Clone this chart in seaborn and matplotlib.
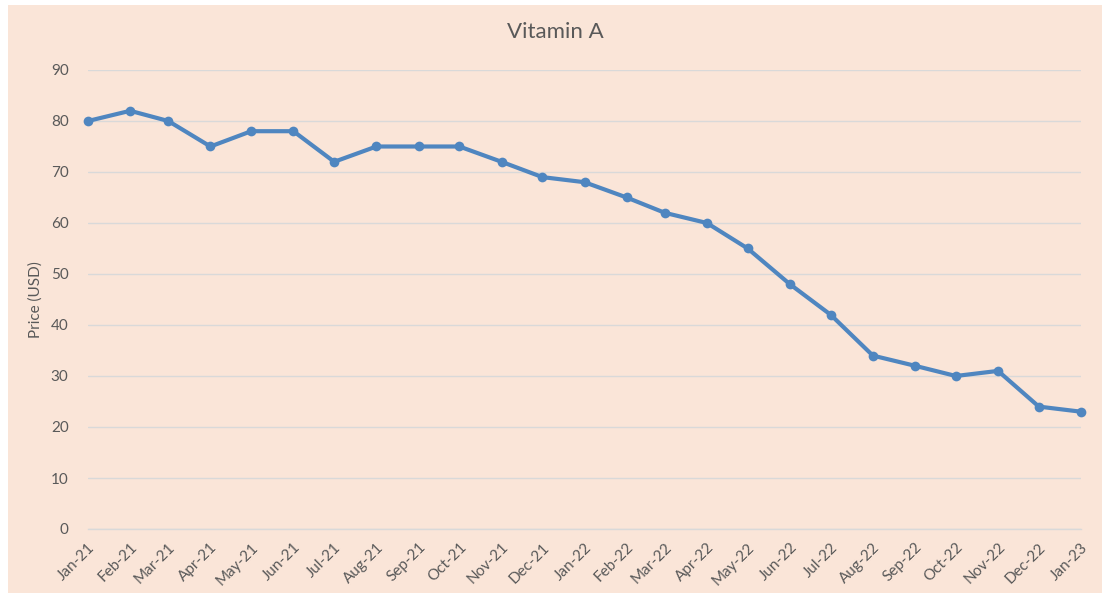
import matplotlib
matplotlib.use("Agg")
import matplotlib.pyplot as plt
import matplotlib.dates as mdates
import matplotlib.patches as mpatches
import seaborn as sns
import pandas as pd

# data
months = pd.date_range("2021-01-01", "2023-01-01", freq="MS")
prices = [80, 82, 80, 75, 78, 78, 72, 75, 75, 75, 72, 69, 68,
          65, 62, 60, 55, 48, 42, 34, 32, 30, 31, 24, 23]
df = pd.DataFrame({"month": months, "price": prices})

bg = "#FAE5D8"
grey = "#595959"

sns.set_style("white")
plt.rcParams["font.family"] = ["Lato", "DejaVu Sans"]

fig = plt.figure(figsize=(11.10, 5.98), dpi=100, facecolor="white")
fig.patches.append(mpatches.Rectangle((8 / 1110, 5 / 598), 1 - 16 / 1110, 1 - 10 / 598,
                                      transform=fig.transFigure, facecolor=bg,
                                      edgecolor="none", zorder=-1))
ax = fig.add_axes([88 / 1110, 1 - 529 / 598, (1081 - 88) / 1110, (529 - 70) / 598])
ax.set_facecolor(bg)

sns.lineplot(data=df, x="month", y="price", ax=ax, color="#4F86C0",
             linewidth=3, marker="o", markersize=7, markeredgewidth=0, zorder=3)
for ln in ax.lines:
    ln.set_clip_on(False)

ax.set_ylim(0, 90)
ax.set_yticks(range(0, 91, 10))
ax.set_xlim(months[0], months[-1])
ax.set_xticks(months)
ax.xaxis.set_major_formatter(mdates.DateFormatter("%b-%y"))
plt.setp(ax.get_xticklabels(), rotation=45, ha="right", rotation_mode="anchor")

ax.grid(axis="y", color="#D9D9D9", linewidth=1)
ax.set_axisbelow(True)
for s in ["top", "right", "left"]:
    ax.spines[s].set_visible(False)
ax.spines["bottom"].set_color("#D9D9D9")
ax.spines["bottom"].set_linewidth(1)
ax.spines["bottom"].set_zorder(1)
ax.tick_params(axis="x", length=5, color="#D9D9D9", labelsize=11, labelcolor=grey, pad=3)
ax.tick_params(axis="y", length=0, labelsize=11, labelcolor=grey, pad=14)

ax.set_xlabel("")
ax.set_ylabel("Price (USD)", fontsize=11, color=grey, labelpad=6)
fig.text(0.5, 1 - 32 / 598, "Vitamin A", ha="center", va="center", fontsize=16, color=grey)

fig.savefig("out.png", dpi=100, facecolor="white")
